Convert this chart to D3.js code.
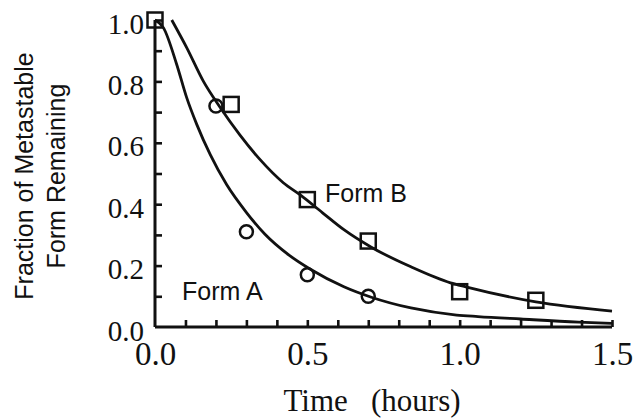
<!DOCTYPE html>
<meta charset="utf-8">
<script src="https://d3js.org/d3.v7.min.js"></script>
<style>
  body { margin: 0; background: #fff; }
</style>
<body>
<script>
// measured points
var formA_t = [0.2, 0.3, 0.5, 0.7];
var formA_v = [0.72, 0.31, 0.17, 0.10];
var formB_t = [0.0, 0.25, 0.5, 0.7, 1.0, 1.25];
var formB_v = [1.0, 0.725, 0.415, 0.28, 0.115, 0.087];

// fitted curves
var fitA_t = [0.0, 0.027, 0.071, 0.104, 0.137, 0.181, 0.235, 0.301, 0.361, 0.44, 0.51, 0.62, 0.71, 0.84, 0.99, 1.06, 1.2, 1.39, 1.5];
var fitA_v = [1.0, 0.976, 0.856, 0.747, 0.66, 0.562, 0.464, 0.372, 0.302, 0.234, 0.188, 0.131, 0.097, 0.062, 0.039, 0.034, 0.026, 0.016, 0.012];
var fitB_t = [0.055, 0.104, 0.159, 0.214, 0.279, 0.345, 0.421, 0.48, 0.55, 0.62, 0.71, 0.84, 0.97, 1.02, 1.25, 1.5];
var fitB_v = [1.0, 0.91, 0.80, 0.715, 0.625, 0.545, 0.47, 0.428, 0.372, 0.317, 0.26, 0.196, 0.144, 0.131, 0.082, 0.052];

var xMinor = d3.range(1, 16).map(d => d / 10);
var xLabels = [0, 0.5, 1.0, 1.5];
var yMinor = d3.range(1, 11).map(d => d / 10);
var yLabels = [0, 0.2, 0.4, 0.6, 0.8, 1.0];

var width = 635, height = 420;
var x = d3.scaleLinear([0, 1.5], [155, 612]);
var y = d3.scaleLinear([0, 1], [327, 20]);

var svg = d3.select("body").append("svg")
    .attr("width", width)
    .attr("height", height);

var ink = "#111";
var serif = "'Liberation Serif', 'Times New Roman', serif";
var sans = "'Liberation Sans', Arial, sans-serif";

// ticks (inward)
svg.append("g")
    .attr("transform", `translate(0,${y(0)})`)
    .call(d3.axisBottom(x).tickValues(xMinor).tickSize(-7).tickSizeOuter(0).tickFormat(""))
    .call(g => g.select(".domain").attr("d", `M${x(0)},0H${x(1.5)}`));

svg.append("g")
    .attr("transform", `translate(${x(0)},0)`)
    .call(d3.axisLeft(y).tickValues(yMinor).tickSize(-7).tickSizeOuter(0).tickFormat(""))
    .call(g => g.select(".domain").attr("d", `M0,${y(0)}V${y(1)}`));

svg.selectAll(".domain, .tick line")
    .attr("stroke", ink)
    .attr("stroke-width", 2.6);
svg.selectAll(".domain").attr("stroke-width", 3);

// tick labels
svg.append("g")
    .attr("transform", `translate(0,${y(0)})`)
    .call(d3.axisBottom(x).tickValues(xLabels).tickSize(0).tickPadding(15).tickFormat(d3.format(".1f")))
    .call(g => g.select(".domain").remove())
    .call(g => g.selectAll("text")
        .attr("font-family", serif)
        .attr("font-size", 33)
        .attr("fill", ink));

svg.append("g")
    .attr("transform", `translate(${x(0) - 1},0)`)
    .call(d3.axisLeft(y).tickValues(yLabels).tickSize(0).tickPadding(10).tickFormat(d3.format(".1f")))
    .call(g => g.select(".domain").remove())
    .call(g => g.selectAll("text")
        .attr("font-family", serif)
        .attr("font-size", 29)
        .attr("dy", "0.45em")
        .attr("fill", ink));

// axis titles
svg.append("text")
    .attr("x", 372)
    .attr("y", 411)
    .attr("text-anchor", "middle")
    .attr("font-family", serif)
    .attr("font-size", 31)
    .attr("fill", ink)
    .style("white-space", "pre")
    .text("Time   (hours)");

svg.append("g")
    .attr("transform", "translate(0,176) rotate(-90)")
    .attr("font-family", sans)
    .attr("font-size", 25)
    .attr("fill", ink)
    .attr("text-anchor", "middle")
    .call(g => g.append("text").attr("y", 33).text("Fraction of Metastable"))
    .call(g => g.append("text").attr("y", 65).text("Form Remaining"));

// fitted curves
var line = d3.line()
    .x(d => x(d[0]))
    .y(d => y(d[1]))
    .curve(d3.curveMonotoneX);

svg.append("g")
    .attr("fill", "none")
    .attr("stroke", ink)
    .attr("stroke-width", 2.8)
    .selectAll("path")
    .data([d3.zip(fitA_t, fitA_v), d3.zip(fitB_t, fitB_v)])
    .join("path")
    .attr("d", line);

// markers
svg.append("g")
    .attr("fill", "none")
    .attr("stroke", ink)
    .attr("stroke-width", 2.5)
    .selectAll("circle")
    .data(d3.zip(formA_t, formA_v))
    .join("circle")
    .attr("cx", d => x(d[0]))
    .attr("cy", d => y(d[1]))
    .attr("r", 6.5);

var sq = 15;
svg.append("g")
    .attr("fill", "none")
    .attr("stroke", ink)
    .attr("stroke-width", 2.5)
    .selectAll("rect")
    .data(d3.zip(formB_t, formB_v))
    .join("rect")
    .attr("x", d => x(d[0]) - sq / 2)
    .attr("y", d => y(d[1]) - sq / 2)
    .attr("width", sq)
    .attr("height", sq);

// series labels
svg.append("text")
    .attr("x", 182).attr("y", 300)
    .attr("font-family", sans).attr("font-size", 25).attr("fill", ink)
    .text("Form A");

svg.append("text")
    .attr("x", 325).attr("y", 202)
    .attr("font-family", sans).attr("font-size", 25).attr("fill", ink)
    .text("Form B");
</script>
</body>
